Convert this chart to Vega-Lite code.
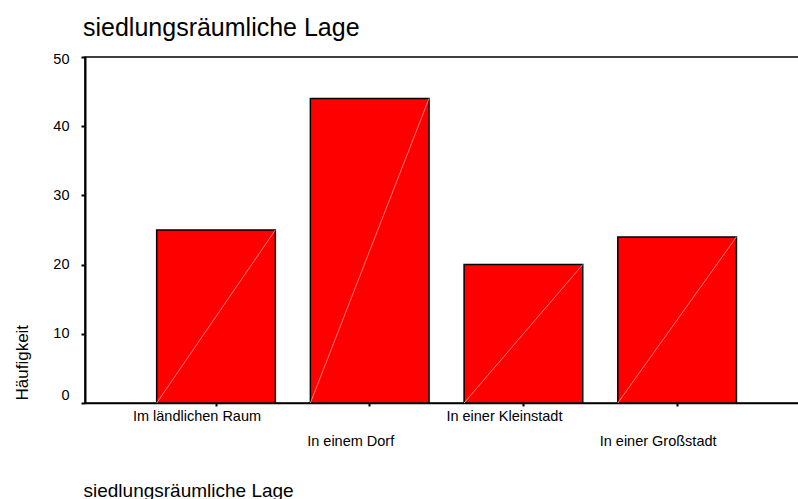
{
  "$schema": "https://vega.github.io/schema/vega-lite/v6.json",
  "width": 714,
  "height": 346,
  "autosize": "none",
  "padding": {"left": 85, "top": 57, "right": 0, "bottom": 96},
  "background": "white",
  "title": {
    "text": "siedlungsräumliche Lage",
    "anchor": "start",
    "frame": "group",
    "fontSize": 25,
    "fontWeight": "normal",
    "color": "black",
    "offset": 10,
    "dx": -2
  },
  "data": {
    "values": [
      {"Lage": "Im ländlichen Raum", "Haeufigkeit": 25},
      {"Lage": "In einem Dorf", "Haeufigkeit": 44},
      {"Lage": "In einer Kleinstadt", "Haeufigkeit": 20},
      {"Lage": "In einer Großstadt", "Haeufigkeit": 24}
    ]
  },
  "encoding": {
    "x": {
      "field": "Lage",
      "type": "nominal",
      "sort": null,
      "scale": {"paddingInner": 0.228, "paddingOuter": 0.4366, "align": 0.534},
      "axis": {
        "title": "siedlungsräumliche Lage",
        "labelAngle": 0,
        "labelOffset": -19,
        "labelPadding": 3,
        "labelBaseline": "top",
        "labelLineHeight": 25.5,
        "labelOverlap": false,
        "labelLimit": 0,
        "labelExpr": "indexof(['In einem Dorf','In einer Großstadt'], datum.label) >= 0 ? ['', datum.label] : datum.label",
        "tickSize": 3,
        "tickWidth": 2,
        "domainWidth": 1.5,
        "titleX": -2,
        "titleY": 93,
        "titleAlign": "left",
        "titleBaseline": "alphabetic",
        "titleFontSize": 19,
        "titleFontWeight": "normal"
      }
    },
    "y": {
      "field": "Haeufigkeit",
      "type": "quantitative",
      "scale": {"domain": [0, 50], "nice": false},
      "axis": {
        "title": "Häufigkeit",
        "values": [0, 10, 20, 30, 40, 50],
        "grid": false,
        "tickSize": 4,
        "tickWidth": 2,
        "domainWidth": 2,
        "labelPadding": 12,
        "labelBaseline": "middle",
        "labelOffset": {
          "condition": [
            {"test": "datum.value == 0", "value": -8},
            {"test": "datum.value == 50", "value": 2}
          ],
          "value": 0
        },
        "titleAngle": 270,
        "titleAlign": "left",
        "titleBaseline": "alphabetic",
        "titleX": -58,
        "titleY": 343,
        "titleFontSize": 17,
        "titleFontWeight": "normal"
      }
    }
  },
  "layer": [
    {
      "mark": {"type": "bar", "color": "#ff0000", "stroke": "black", "strokeWidth": 1.5}
    },
    {
      "mark": {"type": "rule", "color": "#ff9a9a", "strokeWidth": 0.8},
      "encoding": {
        "x": {"field": "Lage", "type": "nominal", "sort": null, "bandPosition": 0},
        "x2": {"field": "Lage", "bandPosition": 1},
        "y": {"datum": 0, "type": "quantitative"},
        "y2": {"field": "Haeufigkeit"}
      }
    }
  ],
  "config": {
    "font": "Liberation Sans",
    "view": {"stroke": "black", "strokeWidth": 1.5},
    "axis": {
      "domainColor": "black",
      "tickColor": "black",
      "labelColor": "black",
      "titleColor": "black",
      "labelFontSize": 14.5,
      "labelFont": "Liberation Sans",
      "titleFont": "Liberation Sans"
    }
  }
}
